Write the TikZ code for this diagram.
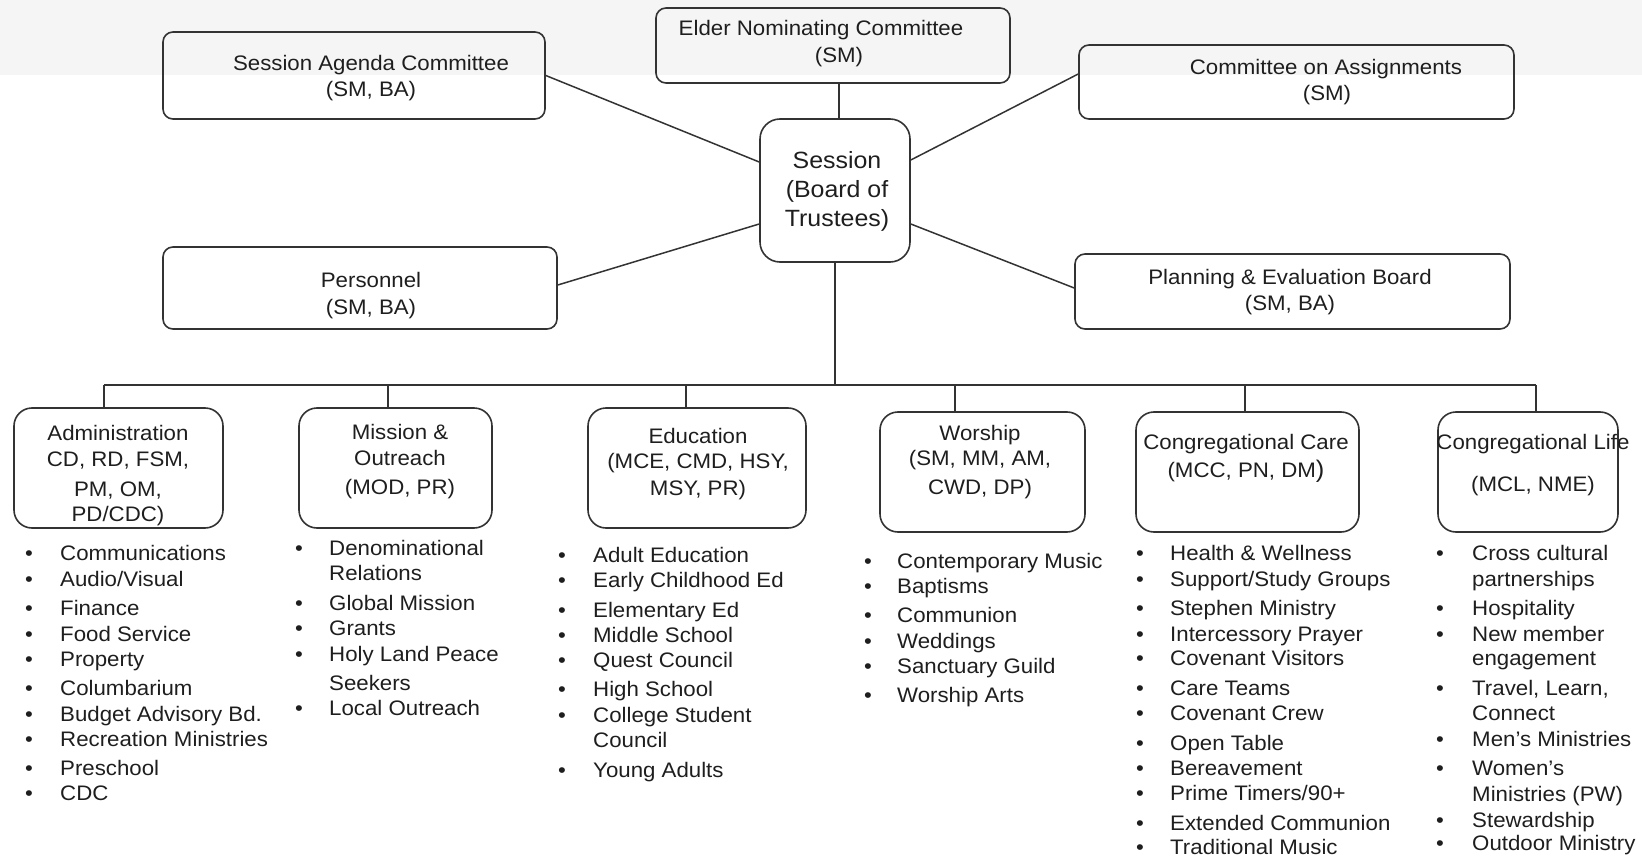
\documentclass[tikz,border=0pt]{standalone}
\usepackage{fontspec}
\setmainfont[FakeStretch=1.06]{Liberation Sans}
\usetikzlibrary{fit}
\definecolor{linec}{HTML}{333333}
\definecolor{textc}{HTML}{1E1E1E}
\definecolor{bandc}{HTML}{F5F5F5}
\tikzset{
  box/.style={draw=linec, line width=1.6pt, rounded corners=10pt, inner sep=0pt},
  bigbox/.style={box, rounded corners=18pt},
  conn/.style={draw=linec, line width=1.5pt},
  txt/.style={font=\fontsize{21}{25}\selectfont, text=textc, inner sep=0pt},
  stxt/.style={font=\fontsize{23.5}{29}\selectfont, text=textc, inner sep=0pt},
}
\newcommand\itemcol[4]{\foreach \iy/\ib/\itxt [count=\ii] in {#4}{%
  \node[txt, anchor=base west] (#1-\ii) at (#3,\iy+7.5) {\itxt};
  \ifnum\ib=1 \node[txt, anchor=base] (#1-b\ii) at (#2,\iy+7.5) {•};\fi}}
\begin{document}
\begin{tikzpicture}[x=1pt,y=-1pt]
\useasboundingbox (0,0) rectangle (1642,856);
\fill[bandc] (0,0) rectangle (1642,75);

% top boxes
\node[box, fit={(163,32) (545,119)}] (sac) {};
\node[txt, anchor=base] (sac-t1) at (371,70.5) {Session Agenda Committee};
\node[txt, anchor=base] (sac-t2) at (371,96.5) {(SM, BA)};

\node[box, fit={(656,8) (1010,83)}] (enc) {};
\node[txt, anchor=base] (enc-t1) at (821,35.5) {Elder Nominating Committee};
\node[txt, anchor=base] (enc-t2) at (839,62.5) {(SM)};

\node[box, fit={(1079,45) (1514,119)}] (coa) {};
\node[txt, anchor=base] (coa-t1) at (1326,74.5) {Committee on Assignments};
\node[txt, anchor=base] (coa-t2) at (1327,100.5) {(SM)};

\node[box, fit={(163,247) (557,329)}] (per) {};
\node[txt, anchor=base] (per-t1) at (371,287.5) {Personnel};
\node[txt, anchor=base] (per-t2) at (371,314.5) {(SM, BA)};

\node[box, fit={(1075,254) (1510,329)}] (peb) {};
\node[txt, anchor=base] (peb-t1) at (1290,284.5) {Planning \& Evaluation Board};
\node[txt, anchor=base] (peb-t2) at (1290,310.5) {(SM, BA)};

\node[bigbox, rounded corners=20pt, fit={(760,119) (910,262)}] (ses) {};
\node[stxt, anchor=base] (ses-t1) at (837,168.5) {Session};
\node[stxt, anchor=base] (ses-t2) at (837,197.5) {(Board of};
\node[stxt, anchor=base] (ses-t3) at (837,226.5) {Trustees)};

% connectors to session
\draw[conn] (sac.east) -- ([yshift=28.5pt]ses.west);
\draw[conn] ([yshift=3pt]per.east) -- ([yshift=-33.5pt]ses.west);
\draw[conn] ([yshift=8pt]coa.west) -- ([yshift=30.5pt]ses.east);
\draw[conn] ([yshift=3.5pt]peb.west) -- ([yshift=-33.5pt]ses.east);
\draw[conn] ([xshift=6pt]enc.south) -- ([xshift=6pt]enc.south |- ses.north);

% bus
\coordinate (busC) at (835,385);
\coordinate (b1) at (104,385);
\coordinate (b2) at (388,385);
\coordinate (b3) at (686,385);
\coordinate (b4) at (955,385);
\coordinate (b5) at (1245,385);
\coordinate (b6) at (1536,385);
\draw[conn] (ses.south -| busC) -- (busC);
\draw[conn] (b1) -- (b6);

% lower boxes
\node[bigbox, fit={(14,408) (223,528)}] (adm) {};
\node[txt, anchor=base] (adm-t1) at (118,440.5) {Administration};
\node[txt, anchor=base] (adm-t2) at (118,466.5) {CD, RD, FSM,};
\node[txt, anchor=base] (adm-t3) at (118,496.5) {PM, OM,};
\node[txt, anchor=base] (adm-t4) at (118,521.5) {PD/CDC)};

\node[bigbox, fit={(299,408) (492,528)}] (mis) {};
\node[txt, anchor=base] (mis-t1) at (400,439.5) {Mission \&};
\node[txt, anchor=base] (mis-t2) at (400,465.5) {Outreach};
\node[txt, anchor=base] (mis-t3) at (400,494.5) {(MOD, PR)};

\node[bigbox, fit={(588,408) (806,528)}] (edu) {};
\node[txt, anchor=base] (edu-t1) at (698,443.5) {Education};
\node[txt, anchor=base] (edu-t2) at (698,468.5) {(MCE, CMD, HSY,};
\node[txt, anchor=base] (edu-t3) at (698,495.5) {MSY, PR)};

\node[bigbox, fit={(880,412) (1085,532)}] (wor) {};
\node[txt, anchor=base] (wor-t1) at (980,440.5) {Worship};
\node[txt, anchor=base] (wor-t2) at (980,465.5) {(SM, MM, AM,};
\node[txt, anchor=base] (wor-t3) at (980,494.5) {CWD, DP)};

\node[bigbox, fit={(1136,412) (1359,532)}] (cc) {};
\node[txt, anchor=base] (cc-t1) at (1246,449.5) {Congregational Care};
\node[txt, anchor=base] (cc-t2) at (1246,477.5) {(MCC, PN, DM{\fontsize{24}{28}\selectfont)}};

\node[bigbox, fit={(1438,412) (1618,532)}] (cl) {};
\node[txt, anchor=base] (cl-t1) at (1533,449.5) {Congregational Life};
\node[txt, anchor=base] (cl-t2) at (1533,491.5) {(MCL, NME)};

\draw[conn] (b1) -- (b1 |- adm.north);
\draw[conn] (b2) -- (b2 |- mis.north);
\draw[conn] (b3) -- (b3 |- edu.north);
\draw[conn] (b4) -- (b4 |- wor.north);
\draw[conn] (b5) -- (b5 |- cc.north);
\draw[conn] (b6) -- (b6 |- cl.north);

% lists
\itemcol{admL}{29}{60}{553/1/Communications, 579/1/{Audio/Visual}, 608/1/Finance, 634/1/Food Service, 659/1/Property, 688/1/Columbarium, 714/1/Budget Advisory Bd., 739/1/Recreation Ministries, 768/1/Preschool, 793/1/CDC}
\itemcol{misL}{299}{329}{548/1/Denominational, 573/0/Relations, 603/1/Global Mission, 628/1/Grants, 654/1/Holy Land Peace, 683/0/Seekers, 708/1/Local Outreach}
\itemcol{eduL}{562}{593}{555/1/Adult Education, 580/1/Early Childhood Ed, 610/1/Elementary Ed, 635/1/Middle School, 660/1/Quest Council, 689/1/High School, 715/1/College Student, 740/0/Council, 770/1/Young Adults}
\itemcol{worL}{868}{897}{561/1/Contemporary Music, 586/1/Baptisms, 615/1/Communion, 641/1/Weddings, 666/1/Sanctuary Guild, 695/1/Worship Arts}
\itemcol{ccL}{1140}{1170}{553/1/Health \& Wellness, 579/1/{Support/Study Groups}, 608/1/Stephen Ministry, 634/1/Intercessory Prayer, 658/1/Covenant Visitors, 688/1/Care Teams, 713/1/Covenant Crew, 743/1/Open Table, 768/1/Bereavement, 793/1/{Prime Timers/90+}, 823/1/Extended Communion, 847/1/Traditional Music}
\itemcol{clL}{1440}{1472}{553/1/Cross cultural, 579/0/partnerships, 608/1/Hospitality, 634/1/New member, 658/0/engagement, 688/1/{Travel, Learn,}, 713/0/Connect, 739/1/Men’s Ministries, 768/1/Women’s, 794/0/Ministries (PW), 820/1/Stewardship, 843/1/Outdoor Ministry}
\end{tikzpicture}
\end{document}
